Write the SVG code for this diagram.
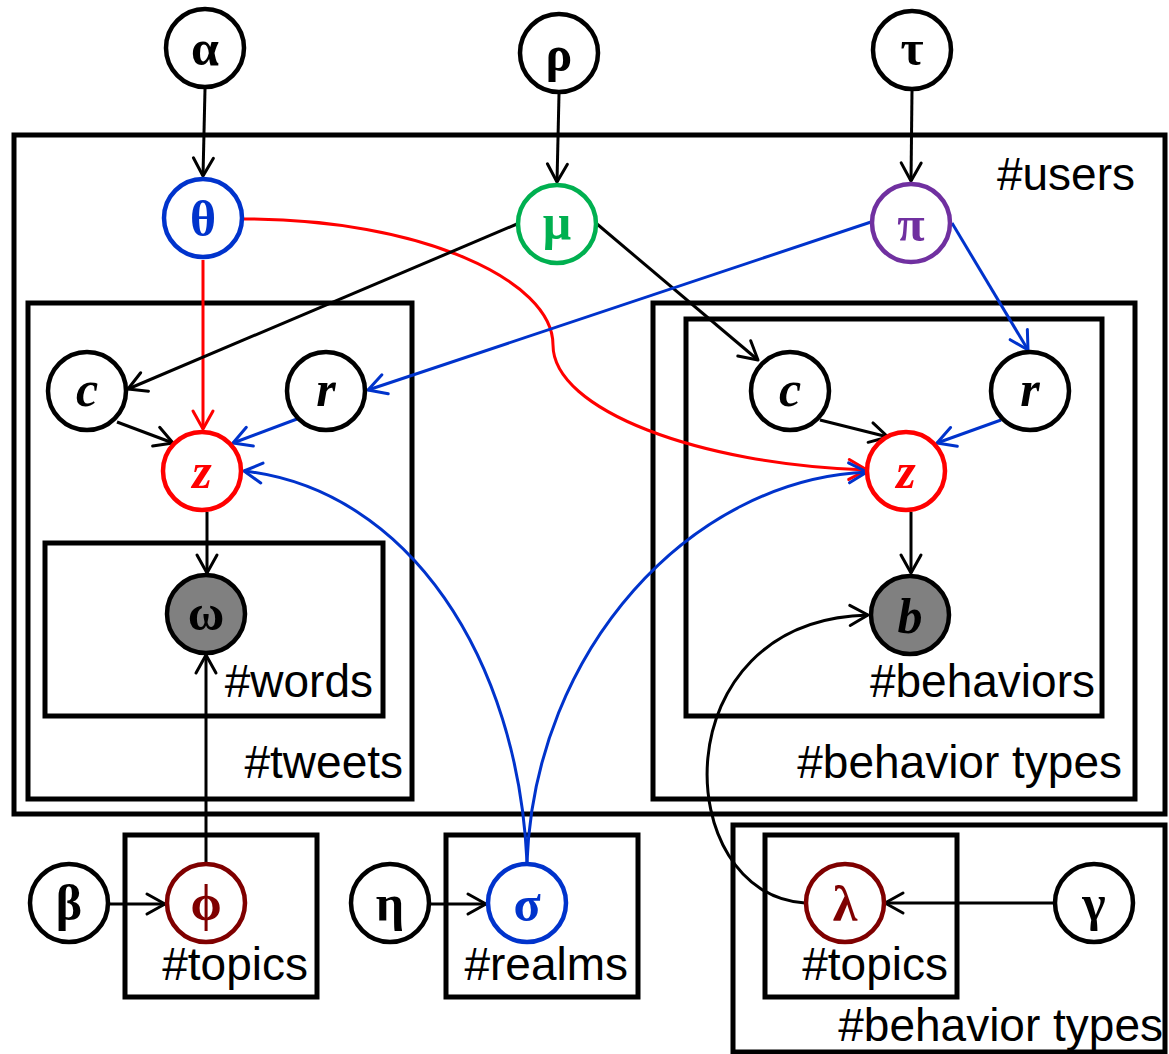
<svg xmlns="http://www.w3.org/2000/svg" width="1169" height="1054" viewBox="0 0 1169 1054">
  <style>
    .plate { fill: none; stroke: #000; stroke-width: 5; }
    .lbl { font-family: "Liberation Sans", Arial, sans-serif; font-size: 46px; fill: #000; text-anchor: end; }
    .node { fill: #fff; stroke: #000; stroke-width: 4.5; }
    .obs { fill: #808080; stroke: #000; stroke-width: 4.5; }
    .gk { font-family: "Liberation Serif", "Times New Roman", serif; font-size: 50px; font-weight: bold; text-anchor: middle; }
    .it { font-family: "Liberation Serif", "Times New Roman", serif; font-size: 50px; font-weight: bold; font-style: italic; text-anchor: middle; }
    .k { stroke: #000; }
    .rd { stroke: #ff0000; }
    .bl { stroke: #0033cc; }
    .edge { fill: none; stroke-width: 3; }
  </style>
  <defs>
    <marker id="ak" markerUnits="userSpaceOnUse" markerWidth="26" markerHeight="26" viewBox="-22 -13 26 26" refX="0" refY="0" orient="auto" overflow="visible">
      <path d="M-18,-10 L0,0 L-18,10" fill="none" stroke="#000" stroke-width="3" stroke-linecap="round" stroke-linejoin="round"/>
    </marker>
    <marker id="ar" markerUnits="userSpaceOnUse" markerWidth="26" markerHeight="26" viewBox="-22 -13 26 26" refX="0" refY="0" orient="auto" overflow="visible">
      <path d="M-18,-10 L0,0 L-18,10" fill="none" stroke="#ff0000" stroke-width="3" stroke-linecap="round" stroke-linejoin="round"/>
    </marker>
    <marker id="ab" markerUnits="userSpaceOnUse" markerWidth="26" markerHeight="26" viewBox="-22 -13 26 26" refX="0" refY="0" orient="auto" overflow="visible">
      <path d="M-18,-10 L0,0 L-18,10" fill="none" stroke="#0033cc" stroke-width="3" stroke-linecap="round" stroke-linejoin="round"/>
    </marker>
  </defs>

  <!-- plates -->
  <g id="plates">
    <g id="plate-users"><rect class="plate" x="14" y="135" width="1151" height="679"/><text class="lbl" x="1135" y="190">#users</text></g>
    <g id="plate-tweets"><rect class="plate" x="28" y="303" width="384" height="496"/><text class="lbl" x="403" y="778">#tweets</text></g>
    <g id="plate-words"><rect class="plate" x="45" y="543" width="338" height="173"/><text class="lbl" x="373" y="697">#words</text></g>
    <g id="plate-btypes"><rect class="plate" x="653" y="303" width="482" height="496"/><text class="lbl" x="1122" y="778">#behavior types</text></g>
    <g id="plate-behaviors"><rect class="plate" x="686" y="319" width="416" height="397"/><text class="lbl" x="1095" y="697">#behaviors</text></g>
    <g id="plate-topics-w"><rect class="plate" x="125" y="835" width="192" height="162"/><text class="lbl" x="308" y="980">#topics</text></g>
    <g id="plate-realms"><rect class="plate" x="446" y="835" width="192" height="162"/><text class="lbl" x="628" y="980">#realms</text></g>
    <g id="plate-btypes2"><rect class="plate" x="733" y="825" width="432" height="227"/><text class="lbl" x="1163" y="1041">#behavior types</text></g>
    <g id="plate-topics-b"><rect class="plate" x="765" y="835" width="192" height="162"/><text class="lbl" x="948" y="980">#topics</text></g>
  </g>

  <!-- connectors -->
  <g id="connectors" class="edge">
    <path class="edge k" d="M205,89 L203,176" marker-end="url(#ak)"/>
    <path class="edge k" d="M559,94 L557,182" marker-end="url(#ak)"/>
    <path class="edge k" d="M912,91 L911,181" marker-end="url(#ak)"/>
    <path class="edge rd" d="M203,260 L203,429" marker-end="url(#ar)"/>
    <path class="edge rd" d="M244,219 C420,219 553,280 553,345 C553,410 700,465 867,470" marker-end="url(#ar)"/>
    <path class="edge k" d="M517,224 L128,389" marker-end="url(#ak)"/>
    <path class="edge k" d="M597,224 L758,360" marker-end="url(#ak)"/>
    <path class="edge bl" d="M871,222 L368,390" marker-end="url(#ab)"/>
    <path class="edge bl" d="M952,223 L1028,350" marker-end="url(#ab)"/>
    <path class="edge k" d="M117,422 L173,443" marker-end="url(#ak)"/>
    <path class="edge bl" d="M297,419 L233,443" marker-end="url(#ab)"/>
    <path class="edge k" d="M820,420 L888,437" marker-end="url(#ak)"/>
    <path class="edge bl" d="M1001,420 L937,443" marker-end="url(#ab)"/>
    <path class="edge k" d="M207,512 L207,573" marker-end="url(#ak)"/>
    <path class="edge k" d="M911,512 L911,573" marker-end="url(#ak)"/>
    <path class="edge k" d="M206,862 L206,655" marker-end="url(#ak)"/>
    <path class="edge k" d="M110,904 L165,904" marker-end="url(#ak)"/>
    <path class="edge k" d="M431,904 L486,904" marker-end="url(#ak)"/>
    <path class="edge bl" d="M527,862 C518,660 410,490 244,471" marker-end="url(#ab)"/>
    <path class="edge bl" d="M527,862 C535,650 690,480 867,472" marker-end="url(#ab)"/>
    <path class="edge k" d="M805,903 C670,895 660,620 868,615" marker-end="url(#ak)"/>
    <path class="edge k" d="M1053,903 L885,903" marker-end="url(#ak)"/>
  </g>

  <!-- nodes -->
  <g id="n-alpha"><circle class="node" cx="205" cy="48" r="39"/><text class="gk" x="205" y="65">α</text></g>
  <g id="n-rho"><circle class="node" cx="559" cy="53" r="39"/><text class="gk" x="559" y="71">ρ</text></g>
  <g id="n-tau"><circle class="node" cx="912" cy="50" r="39"/><text class="gk" x="912" y="65">τ</text></g>
  <g id="n-theta"><circle class="node" cx="203" cy="218" r="39" style="stroke:#0033cc"/><text class="gk" x="203" y="236" fill="#0033cc">θ</text></g>
  <g id="n-mu"><circle class="node" cx="557" cy="224" r="39" style="stroke:#00b050"/><text class="gk" x="557" y="239" fill="#00b050">μ</text></g>
  <g id="n-pi"><circle class="node" cx="911" cy="223" r="39" style="stroke:#7030a0"/><text class="gk" x="911" y="241" fill="#7030a0">π</text></g>
  <g id="n-c1"><circle class="node" cx="87" cy="391" r="39"/><text class="it" x="87" y="406">c</text></g>
  <g id="n-r1"><circle class="node" cx="326" cy="391" r="39"/><text class="it" x="326" y="406">r</text></g>
  <g id="n-z1"><circle class="node" cx="202" cy="471" r="39" style="stroke:#ff0000"/><text class="it" x="202" y="488" fill="#ff0000">z</text></g>
  <g id="n-omega"><circle class="obs" cx="206" cy="614" r="39"/><text class="gk" x="206" y="630">ω</text></g>
  <g id="n-c2"><circle class="node" cx="790" cy="391" r="39"/><text class="it" x="790" y="406">c</text></g>
  <g id="n-r2"><circle class="node" cx="1030" cy="391" r="39"/><text class="it" x="1030" y="406">r</text></g>
  <g id="n-z2"><circle class="node" cx="906" cy="471" r="39" style="stroke:#ff0000"/><text class="it" x="906" y="488" fill="#ff0000">z</text></g>
  <g id="n-b"><circle class="obs" cx="910" cy="615" r="39"/><text class="it" x="910" y="633">b</text></g>
  <g id="n-beta"><circle class="node" cx="69" cy="903" r="39"/><text class="gk" x="69" y="920">β</text></g>
  <g id="n-phi"><circle class="node" cx="206" cy="903" r="39" style="stroke:#7f0000"/><text class="gk" x="206" y="920" fill="#7f0000">ϕ</text></g>
  <g id="n-eta"><circle class="node" cx="390" cy="903" r="39"/><text class="gk" x="390" y="920">η</text></g>
  <g id="n-sigma"><circle class="node" cx="527" cy="903" r="39" style="stroke:#0033cc"/><text class="gk" x="527" y="921" fill="#0033cc">σ</text></g>
  <g id="n-lambda"><circle class="node" cx="845" cy="903" r="39" style="stroke:#7f0000"/><text class="gk" x="845" y="921" fill="#7f0000">λ</text></g>
  <g id="n-gamma"><circle class="node" cx="1094" cy="903" r="39"/><text class="gk" x="1094" y="920">γ</text></g>
</svg>
